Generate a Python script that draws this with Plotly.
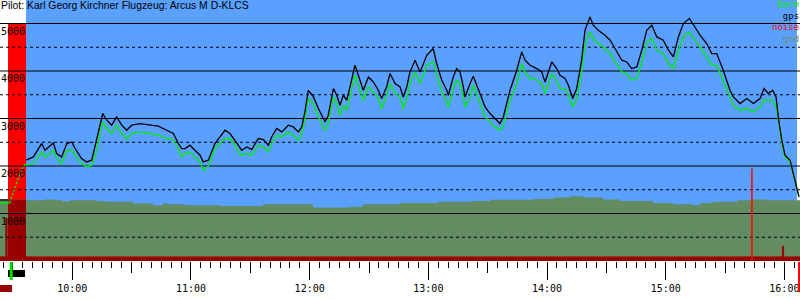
import plotly.graph_objects as go

# ---------------- data (time = minutes of the day) ----------------
view_t = [563.44, 967.9]
view_alt = [0, 5495]

tow_start, flight_start, flight_end = 567.5, 576.6, 966.4
tow_band_top = 5000

pre_t = [563.4, 567.5]
pre_gps = [1286, 1286]
pre_baro_t = [563.4, 568.5]
pre_baro = [1223, 1223]

climb_t = [568.5, 569.0, 570.2, 571.0, 571.9, 572.7, 573.6, 574.4, 575.2, 576.1, 576.6]
climb_baro = [1223, 1316, 1455, 1560, 1631, 1736, 1842, 1911, 2000, 2030, 2017]

flight_t = [576.6, 580.3, 584.5, 586.2, 590.4, 592.1, 594.6, 597.2, 599.7, 601.4, 604.7, 607.3,
            609.8, 612.3, 613.6, 615.4, 617.4, 619.9, 622.4, 625.0, 627.5, 630.0, 634.2, 639.3,
            643.5, 647.7, 651.1, 653.6, 655.3, 657.0, 659.5, 662.0, 664.6, 666.2, 668.8, 672.1,
            677.2, 679.7, 682.3, 683.9, 685.6, 688.2, 690.7, 694.0, 696.6, 699.1, 700.8, 703.3,
            705.9, 709.2, 711.7, 714.3, 716.0, 717.6, 719.3, 721.9, 724.4, 727.8, 729.4, 732.0,
            733.7, 735.3, 737.0, 738.7, 740.4, 742.9, 744.6, 747.1, 749.7, 752.2, 754.7, 756.4,
            758.9, 760.6, 763.2, 765.7, 767.3, 769.1, 770.7, 773.3, 775.8, 779.2, 782.5, 784.2,
            786.8, 789.3, 790.1, 792.6, 794.3, 796.0, 797.7, 798.5, 801.1, 802.7, 806.1, 808.7,
            811.2, 813.7, 816.2, 817.9, 821.3, 824.7, 827.2, 828.9, 831.4, 833.1, 834.8, 837.3,
            839.0, 842.4, 844.9, 846.6, 849.1, 850.8, 853.0, 855.0, 857.5, 859.2, 861.7, 863.4,
            865.9, 869.3, 871.9, 874.4, 877.8, 880.3, 882.8, 885.4, 887.9, 890.4, 893.0, 895.5,
            898.8, 901.4, 903.9, 906.4, 908.9, 912.0, 914.8, 917.4, 920.7, 923.3, 925.8, 929.1,
            932.5, 934.2, 937.6, 941.0, 944.3, 947.7, 949.7, 951.9, 954.1, 955.8, 957.0, 958.7,
            960.3, 962.9, 964.5, 966.3, 967.4]

gps = [2122, 2191, 2473, 2332, 2486, 2263, 2191, 2473, 2507, 2368, 2158, 2086,
       2122, 2543, 2823, 3105, 2964, 2859, 3033, 2859, 2753, 2859, 2894, 2859,
       2838, 2753, 2684, 2473, 2368, 2368, 2438, 2332, 2227, 2086, 2122, 2473,
       2753, 2684, 2543, 2438, 2332, 2402, 2347, 2579, 2558, 2438, 2612, 2789,
       2718, 2859, 2823, 2718, 2823, 3139, 3595, 3454, 3210, 2928, 3069, 3631,
       3490, 3280, 3490, 3385, 3665, 4122, 3911, 3595, 3875, 3770, 3595, 3421,
       3665, 3947, 3736, 3665, 3454, 3665, 3981, 4227, 3981, 4332, 4473, 4157,
       3806, 3595, 3490, 3875, 4052, 3981, 3665, 3454, 3736, 3890, 3526, 3244,
       3105, 3000, 2894, 3033, 3595, 4016, 4402, 4227, 4122, 4086, 4052, 3981,
       3770, 4191, 4052, 3911, 3842, 3701, 3421, 3631, 4227, 4858, 5138, 4964,
       4858, 4753, 4648, 4473, 4227, 4191, 4052, 4086, 4437, 4858, 4964, 4717,
       4648, 4437, 4296, 4717, 4999, 5105, 4928, 4753, 4578, 4368, 4368, 4016,
       3595, 3454, 3315, 3421, 3315, 3421, 3631, 3526, 3595, 3454, 3000, 2543,
       2227, 2122, 1842, 1560, 1349]

baro = [2017, 2052, 2297, 2191, 2332, 2158, 2052, 2332, 2332, 2227, 2052, 1981,
        2017, 2332, 2612, 2928, 2789, 2684, 2859, 2684, 2579, 2684, 2718, 2684,
        2648, 2579, 2543, 2368, 2191, 2263, 2297, 2191, 2086, 1911, 2000, 2368,
        2579, 2579, 2438, 2297, 2227, 2263, 2227, 2438, 2402, 2297, 2473, 2648,
        2612, 2718, 2648, 2543, 2684, 3000, 3421, 3315, 3033, 2753, 2894, 3454,
        3315, 3069, 3280, 3174, 3490, 3911, 3701, 3385, 3665, 3560, 3421, 3210,
        3490, 3736, 3526, 3454, 3210, 3421, 3736, 3981, 3736, 4122, 4191, 3947,
        3560, 3349, 3244, 3631, 3806, 3736, 3454, 3244, 3454, 3701, 3315, 3033,
        2928, 2823, 2753, 2859, 3385, 3736, 4157, 3981, 3842, 3842, 3806, 3736,
        3526, 3947, 3806, 3631, 3631, 3490, 3244, 3421, 3981, 4578, 4823, 4684,
        4578, 4473, 4368, 4191, 3981, 3947, 3806, 3842, 4185, 4612, 4684, 4437,
        4368, 4157, 4052, 4437, 4717, 4823, 4648, 4507, 4296, 4122, 4122, 3806,
        3454, 3280, 3174, 3210, 3139, 3244, 3385, 3385, 3385, 3244, 2964, 2473,
        2191, 2086, 1806, 1526, 1349]

gnd_t = [563.4, 576.6, 586.2, 591.3, 594.8, 598.8, 612.5, 617.5, 630.7, 640.8, 645.9, 647.9,
         657.0, 674.7, 696.4, 721.7, 740.4, 747.0, 765.7, 784.9, 802.6, 811.2, 832.9, 843.0,
         851.6, 858.2, 868.3, 876.9, 893.6, 903.7, 913.8, 917.4, 923.9, 936.1, 944.1, 951.2, 967.9]
gnd = [1295, 1280, 1295, 1280, 1259, 1280, 1259, 1245, 1211, 1175, 1223, 1196,
       1175, 1160, 1196, 1126, 1140, 1196, 1223, 1245, 1265, 1287, 1307, 1337,
       1364, 1337, 1295, 1265, 1223, 1196, 1175, 1223, 1245, 1280, 1295, 1280, 1280]

band_t = [563.4, 566.4, 567.0, 959.0, 959.6, 967.9]
band = [85, 900, 85, 310, 85, 85]

noise_t = [943.6, 943.6]
noise = [0, 1950]

solid_levels = [1000, 2000, 3000, 4000, 5000]
dashed_levels = [500, 1500, 2500, 3500, 4500]
hour_ticks = [600, 660, 720, 780, 840, 900, 960]
hour_labels = ["10:00", "11:00", "12:00", "13:00", "14:00", "15:00", "16:00"]
half_ticks = [570, 630, 690, 750, 810, 870, 930]

release_t = 569.1
tow_bar = [567.5, 576.1]
engine_mark = [563.4, 569.5]
landing_t = 967.4

title = "Pilot: Karl Georg Kirchner Flugzeug: Arcus M D-KLCS"
legend_names = ["baro", "gps", "noise", "gnd"]
legend_colors = ["#00ee00", "#000000", "#ff0000", "#6a8f6a"]

# ---------------- styles ----------------
BLUE = "#5aa0ff"
RED = "#ff0000"
DARKRED = "#990000"
GND = "#638c63"
GREEN = "#00ee00"
MONO = "DejaVu Sans Mono"
PLOT_H = 261

fig = go.Figure()

# ground
fig.add_trace(go.Scatter(x=gnd_t, y=gnd, mode="lines", line=dict(color=GND, width=0, shape="hv"),
                         fill="tozeroy", fillcolor=GND, hoverinfo="skip"))
# dark red part of tow band under the ground
fig.add_trace(go.Scatter(x=[tow_start, tow_start, flight_start, flight_start],
                         y=[0, gnd[0], gnd[0], 0], mode="lines", fill="toself",
                         fillcolor=DARKRED, line=dict(width=0), hoverinfo="skip"))
# noise band
fig.add_trace(go.Scatter(x=band_t, y=band, mode="lines", line=dict(color=DARKRED, width=1, shape="hv"),
                         fill="tozeroy", fillcolor=DARKRED, hoverinfo="skip"))
# grid lines (drawn over the ground fill)
for lv in solid_levels:
    fig.add_trace(go.Scatter(x=view_t, y=[lv, lv], mode="lines",
                             line=dict(color="black", width=1), hoverinfo="skip"))
for lv in dashed_levels:
    fig.add_trace(go.Scatter(x=view_t, y=[lv, lv], mode="lines",
                             line=dict(color="black", width=1, dash="3px,3px"), hoverinfo="skip"))
# noise spike
fig.add_trace(go.Scatter(x=noise_t, y=noise, mode="lines", line=dict(color=RED, width=1.5), hoverinfo="skip"))
# baro
fig.add_trace(go.Scatter(x=pre_baro_t, y=pre_baro, mode="lines", line=dict(color=GREEN, width=1.3), hoverinfo="skip"))
fig.add_trace(go.Scatter(x=climb_t, y=climb_baro, mode="lines",
                         line=dict(color=GREEN, width=1.5, dash="2px,2px"), hoverinfo="skip"))
fig.add_trace(go.Scatter(x=flight_t, y=baro, mode="lines", line=dict(color=GREEN, width=1.3), hoverinfo="skip"))
# gps
fig.add_trace(go.Scatter(x=pre_t, y=pre_gps, mode="lines", line=dict(color="black", width=1.3), hoverinfo="skip"))
fig.add_trace(go.Scatter(x=flight_t, y=gps, mode="lines", line=dict(color="black", width=1.3), hoverinfo="skip"))

def px(t):
    return (t - view_t[0]) / (view_t[1] - view_t[0])

def py(pix):
    return 1 - pix / PLOT_H

shapes = [
    dict(type="rect", xref="x", yref="paper", x0=flight_start, x1=flight_end, y0=0, y1=1,
         fillcolor=BLUE, line=dict(width=0), layer="below"),
    dict(type="rect", xref="x", yref="y", x0=tow_start, x1=flight_start, y0=0, y1=tow_band_top,
         fillcolor=RED, line=dict(width=0), layer="below"),
    # markers below the axis
    dict(type="rect", xref="paper", yref="paper", x0=px(tow_bar[0]), x1=px(tow_bar[1]),
         y0=py(270), y1=py(277), fillcolor="black", line=dict(width=0)),
    dict(type="rect", xref="paper", yref="paper", x0=px(release_t) - 1.5 / 800, x1=px(release_t) + 1.5 / 800,
         y0=py(262), y1=py(280), fillcolor="#00dd00", line=dict(width=0)),
    dict(type="rect", xref="paper", yref="paper", x0=px(engine_mark[0]), x1=px(engine_mark[1]),
         y0=py(285), y1=py(292), fillcolor=DARKRED, line=dict(width=0)),
    dict(type="rect", xref="paper", yref="paper", x0=px(landing_t) - 1 / 800, x1=px(landing_t) + 1 / 800,
         y0=py(262), y1=py(292), fillcolor=RED, line=dict(width=0)),
]

annotations = []
for lv in solid_levels:
    annotations.append(dict(xref="paper", yref="y", x=0, y=lv, text=str(lv), showarrow=False,
                            xanchor="left", yanchor="top", xshift=-1, yshift=0,
                            font=dict(family=MONO, size=10, color="black")))
annotations.append(dict(xref="paper", yref="paper", x=0, y=1, text=title, showarrow=False,
                        xanchor="left", yanchor="top", xshift=-1, yshift=2,
                        font=dict(family="Liberation Sans", size=10.4, color="black")))
legend_text = "<br>".join(f'<span style="color:{c}">{n}</span>' for n, c in zip(legend_names, legend_colors))
annotations.append(dict(xref="paper", yref="paper", x=1, y=1, text=legend_text, showarrow=False,
                        xanchor="right", yanchor="top", align="right", xshift=1, yshift=3,
                        font=dict(family=MONO, size=9, color="black")))

fig.update_layout(
    width=800, height=300, margin=dict(l=0, r=0, t=0, b=39),
    plot_bgcolor="white", paper_bgcolor="white", showlegend=False,
    shapes=shapes, annotations=annotations,
    xaxis=dict(range=view_t, showgrid=False, zeroline=False, showline=False,
               tickmode="array", tickvals=hour_ticks, ticktext=hour_labels,
               ticks="outside", ticklen=18, tickwidth=1, tickcolor="black",
               tickfont=dict(family=MONO, size=10, color="black"),
               minor=dict(ticks="outside", ticklen=6, tickwidth=1, tickcolor="black",
                          tickmode="linear", tick0=0, dtick=5, showgrid=False)),
    xaxis2=dict(range=view_t, overlaying="x", anchor="y", side="bottom", showgrid=False,
                zeroline=False, showline=False, tickmode="array", tickvals=half_ticks,
                ticks="outside", ticklen=11, tickwidth=1, tickcolor="black", showticklabels=False),
    yaxis=dict(range=view_alt, showgrid=False, zeroline=False, showticklabels=False, ticks=""),
)
# a dummy trace on xaxis2 so the axis is drawn
fig.add_trace(go.Scatter(x=[view_t[0]], y=[0], xaxis="x2", mode="markers",
                         marker=dict(size=0, opacity=0), hoverinfo="skip"))

fig.write_html("out.html")
